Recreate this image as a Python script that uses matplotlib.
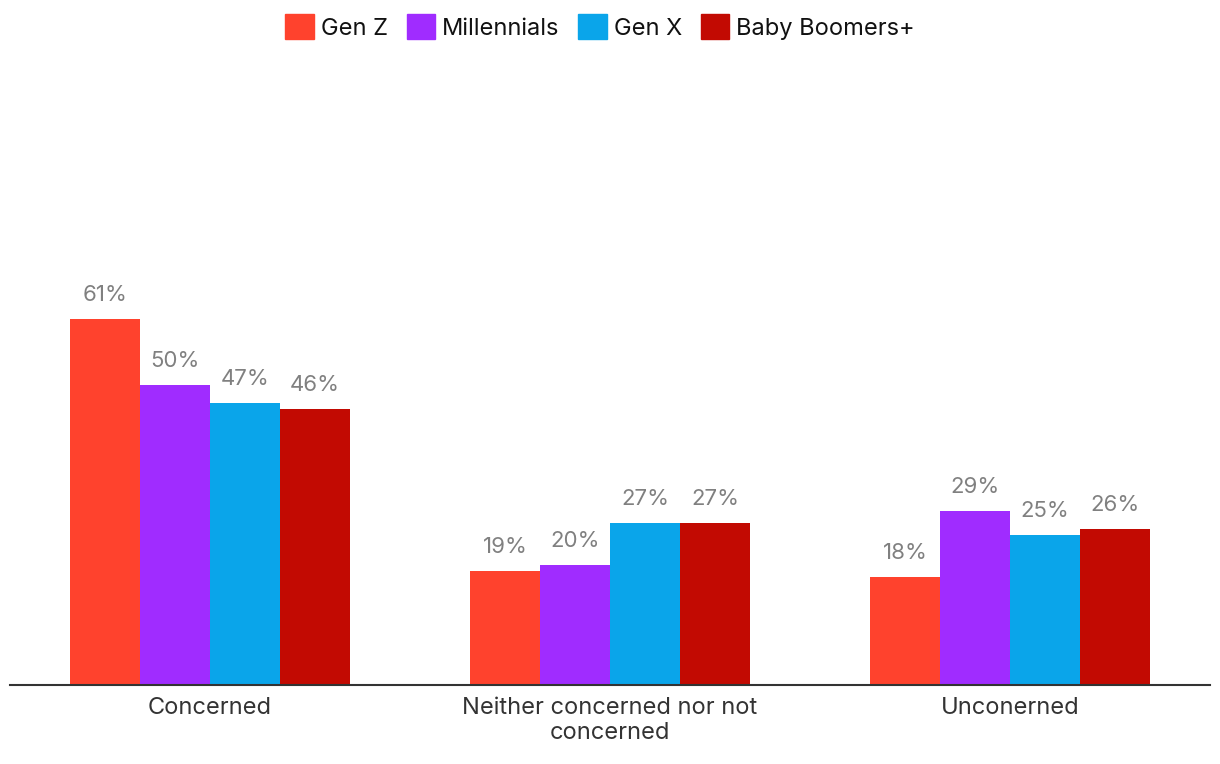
#!/usr/bin/env python3
import matplotlib
matplotlib.use('Agg')
import matplotlib.pyplot as plt
from matplotlib.patches import Patch
import numpy as np

categories = ['Concerned', 'Neither concerned nor not\nconcerned', 'Unconerned']
series = ['Gen Z', 'Millennials', 'Gen X', 'Baby Boomers+']
gen_z = [61, 19, 18]
millennials = [50, 20, 29]
gen_x = [47, 27, 25]
boomers = [46, 27, 26]
values = [gen_z, millennials, gen_x, boomers]
colors = ['#FF422D', '#A02CFF', '#0AA5EA', '#C20A02']

plt.rcParams['font.family'] = ['Inter', 'DejaVu Sans']

fig = plt.figure(figsize=(12.2, 7.64), dpi=100)
ax = fig.add_axes([10 / 1220, 79 / 764, 1200 / 1220, 600 / 764])

x = np.arange(len(categories))
width = 0.175
for i, (name, vals) in enumerate(zip(series, values)):
    pos = x + (i - 1.5) * width
    bars = ax.bar(pos, vals, width, color=colors[i], label=name)
    for b, v in zip(bars, vals):
        ax.annotate('%d%%' % v, (b.get_x() + b.get_width() / 2, v),
                    xytext=(0, 10), textcoords='offset points',
                    ha='center', va='bottom', fontsize=16, color='#808080')

ax.set_xlim(-0.5, 2.5)
ax.set_ylim(0, 100)
ax.set_xticks(x)
ax.set_xticklabels(categories, fontsize=17, color='#333333', linespacing=1.15)
ax.tick_params(axis='x', length=0, pad=9)
ax.set_yticks([])
for s in ['top', 'right', 'left']:
    ax.spines[s].set_visible(False)
ax.spines['bottom'].set_color('#333333')
ax.spines['bottom'].set_linewidth(1.5)

handles = [Patch(color=c, label=n) for c, n in zip(colors, series)]
fig.legend(handles=handles, loc='center', bbox_to_anchor=(0.492, 1 - 27 / 764),
           ncol=4, frameon=False, fontsize=17, handlelength=1.2,
           handleheight=1.2, handletextpad=0.3, columnspacing=0.8,
           labelcolor='#111111')

fig.savefig('out.png', dpi=100)
